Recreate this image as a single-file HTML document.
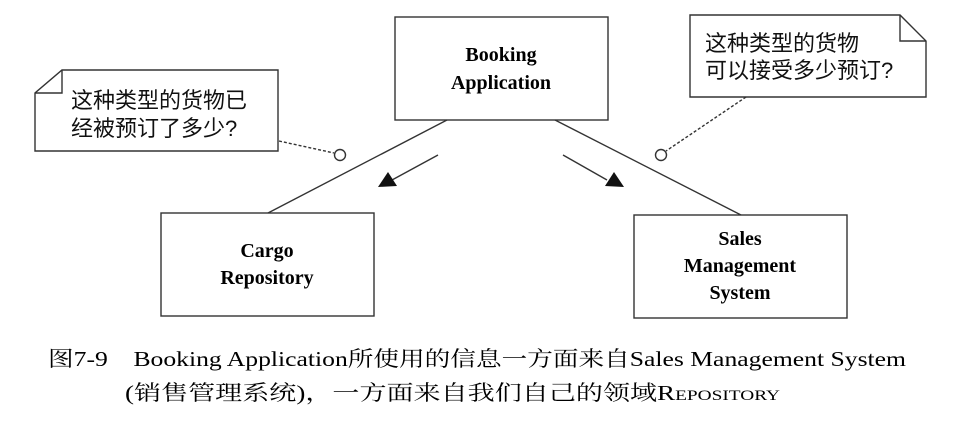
<!DOCTYPE html>
<html><head><meta charset="utf-8"><style>
html,body{margin:0;padding:0;background:#fff;}
svg{display:block}
.b{font-family:"Liberation Serif","Noto Serif CJK SC",serif;font-weight:bold;font-size:20px;text-anchor:middle;fill:#000}
.n{font-family:"Liberation Sans","Noto Sans CJK SC",sans-serif;font-size:22px;fill:#111}
.c{font-family:"Liberation Serif","Noto Serif CJK SC",serif;font-size:21px;fill:#000}
</style></head><body>
<svg width="974" height="432" viewBox="0 0 974 432" xmlns="http://www.w3.org/2000/svg">
<g stroke="#333" stroke-width="1.4" fill="none">
<rect x="395" y="17" width="213" height="103"/>
<rect x="161" y="213" width="213" height="103"/>
<rect x="634" y="215" width="213" height="103"/>
<path d="M62,70 H278 V151 H35 V93 Z"/>
<path d="M62,70 V93 H35"/>
<path d="M690,15 H900 L926,41 V97 H690 Z"/>
<path d="M900,15 V41 H926"/>
<line x1="447" y1="120" x2="268" y2="213"/>
<line x1="555" y1="120" x2="741" y2="215"/>
<line x1="438" y1="155" x2="392" y2="180"/>
<line x1="563" y1="155" x2="607" y2="180"/>
<line x1="279" y1="141" x2="334" y2="153" stroke-dasharray="3,2"/>
<line x1="746" y1="97" x2="666" y2="151" stroke-dasharray="3,2"/>
<circle cx="340" cy="155" r="5.5"/>
<circle cx="661" cy="155" r="5.5"/>
</g>
<polygon points="378,187 388,172 397,186" fill="#111"/>
<polygon points="624,187 605,186 614,172" fill="#111"/>
<text class="b" x="501" y="61">Booking</text>
<text class="b" x="501" y="89">Application</text>
<text class="b" x="267" y="257">Cargo</text>
<text class="b" x="267" y="284">Repository</text>
<text class="b" x="740" y="245">Sales</text>
<text class="b" x="740" y="272">Management</text>
<text class="b" x="740" y="299">System</text>
<text class="n" x="71" y="108">这种类型的货物已</text>
<text class="n" x="71" y="136">经被预订了多少?</text>
<text class="n" x="705" y="51">这种类型的货物</text>
<text class="n" x="705" y="78">可以接受多少预订?</text>
<text class="c" x="48" y="366" textLength="858" lengthAdjust="spacingAndGlyphs">图7-9　Booking Application所使用的信息一方面来自Sales Management System</text>
<text class="c" x="125" y="400" textLength="655" lengthAdjust="spacingAndGlyphs">(销售管理系统)，一方面来自我们自己的领域R<tspan font-size="15">EPOSITORY</tspan></text>
</svg>
</body></html>
